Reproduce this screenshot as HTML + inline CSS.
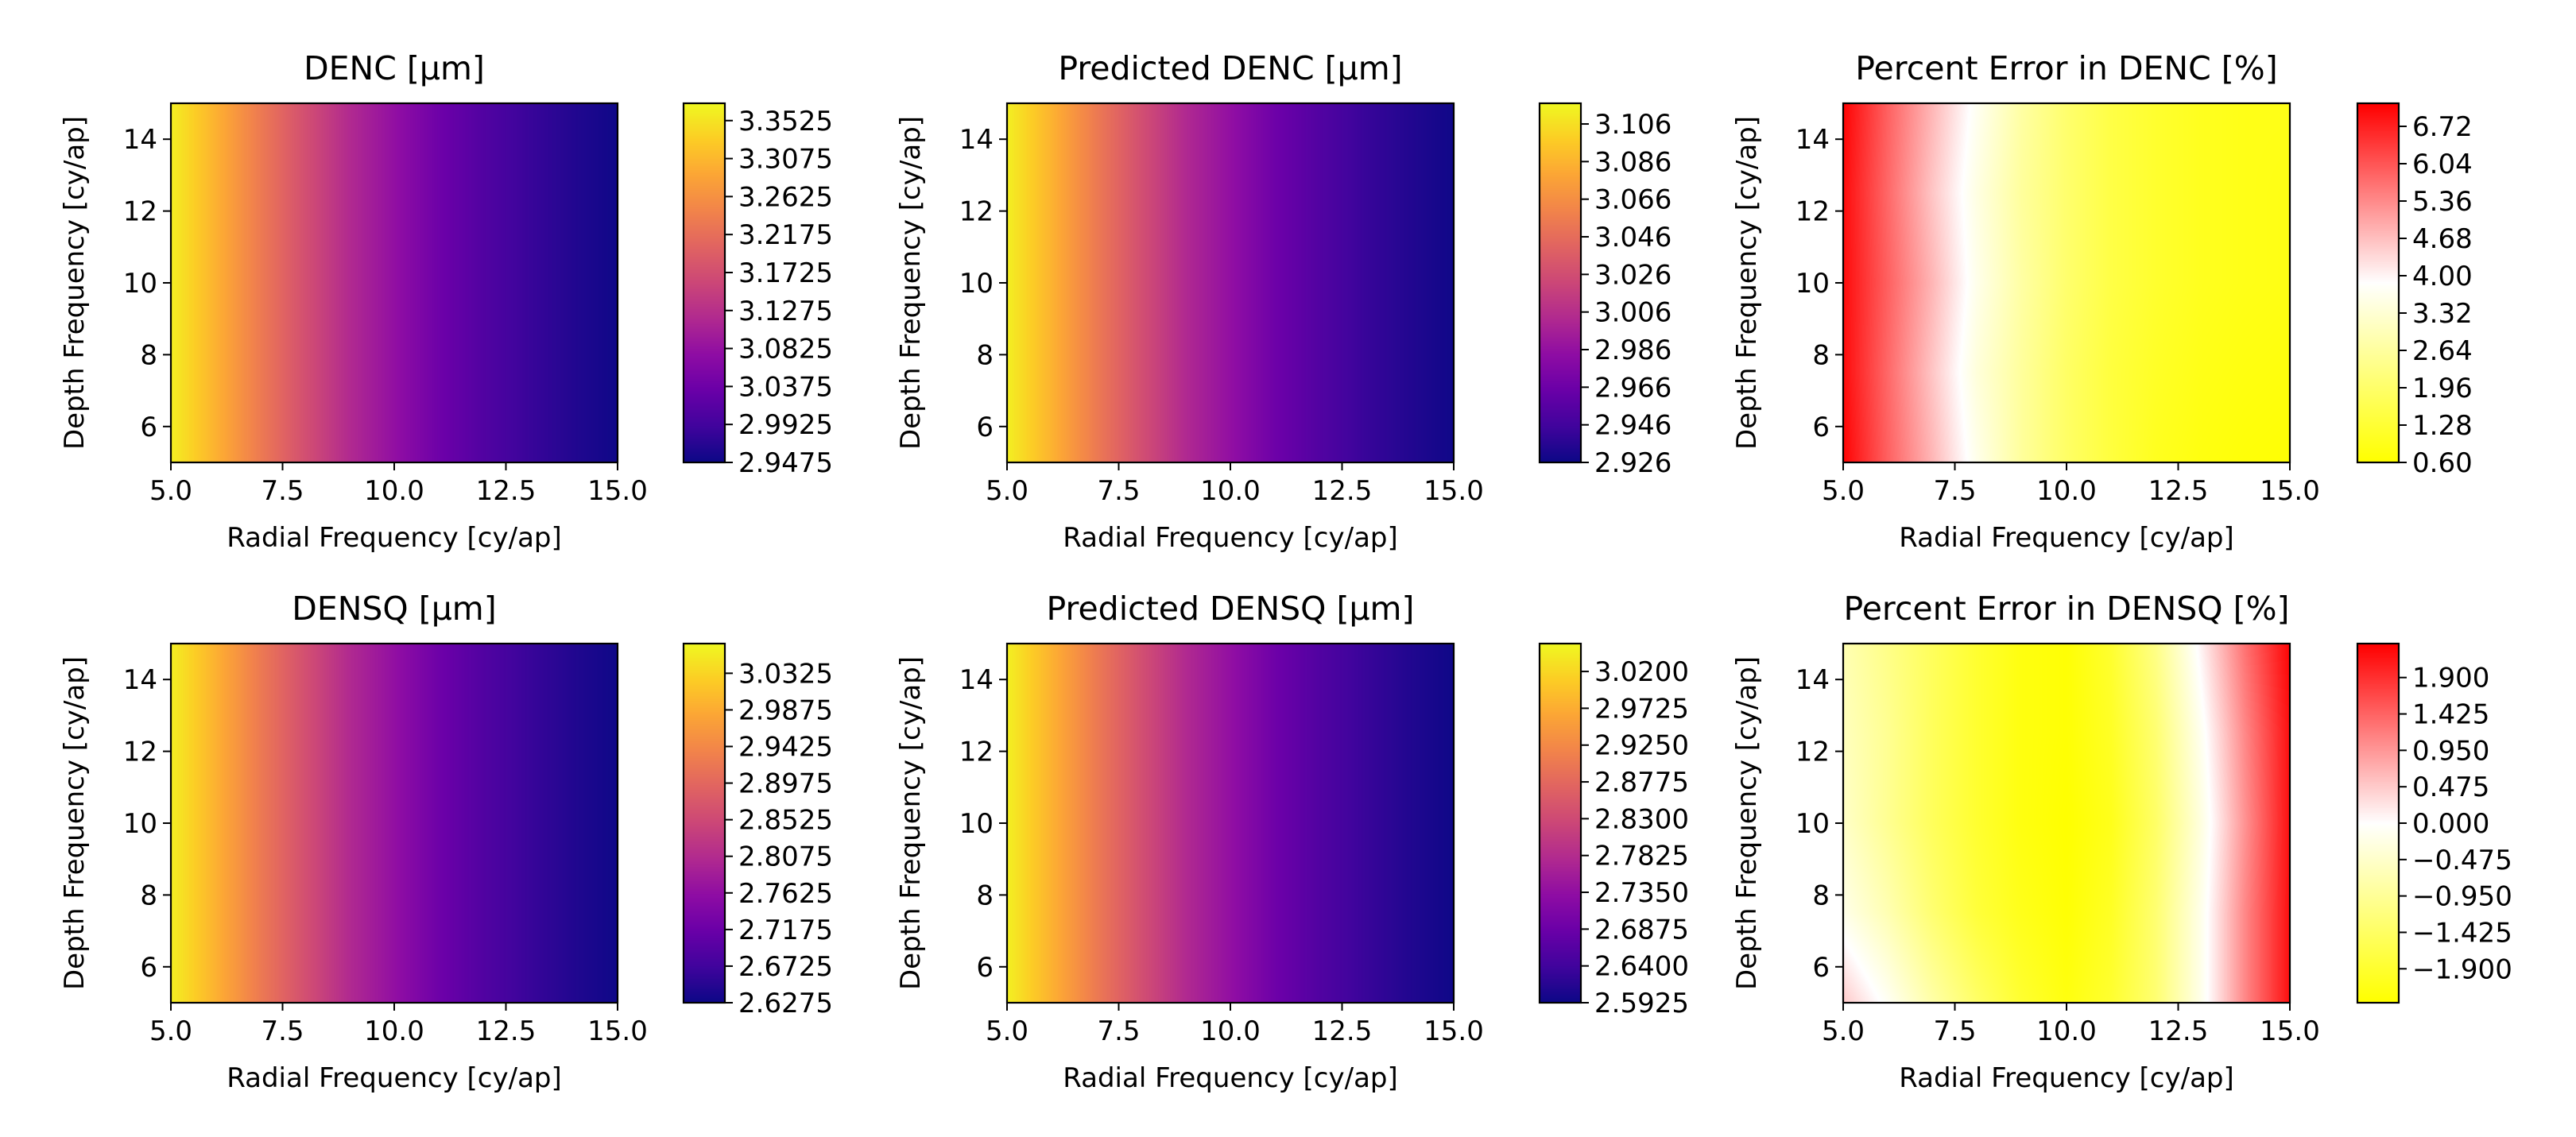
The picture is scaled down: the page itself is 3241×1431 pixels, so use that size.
<!DOCTYPE html>
<html><head><meta charset="utf-8"><style>
body{margin:0;background:#fff;}
#root{position:relative;width:3241px;height:1431px;overflow:hidden;background:#fff;}
canvas{position:absolute;}
svg{position:absolute;left:0;top:0;}
text{font-family:"DejaVu Sans","Liberation Sans",sans-serif;fill:#000;}
</style></head><body>
<div id="root">
<svg id="ov" width="3241" height="1431"></svg>
</div>
<script>
// ---- data ----
const xGrid = [5,6,7,8,9,10,11,12,13,14,15];
const yGrid = [5,7.5,10,12.5,15];
const xTicks = [5.0,7.5,10.0,12.5,15.0];
const xTickLabels = ["5.0","7.5","10.0","12.5","15.0"];
const yTicks = [6,8,10,12,14];
const dencProfile = [3.364,3.301,3.233,3.173,3.118,3.079,3.037,3.007,2.984,2.965,2.949];
const predDencProfile = [3.113,3.085,3.054,3.027,3.002,2.985,2.966,2.953,2.942,2.934,2.927];
const densqProfile = [3.060,2.994,2.923,2.862,2.804,2.764,2.720,2.689,2.665,2.645,2.629];
const predDensqProfile = [3.047,2.977,2.903,2.838,2.778,2.736,2.690,2.657,2.632,2.611,2.594];
const errDenc = [
 [7.1,5.9,4.8,3.6,2.6,1.9,1.4,1.0,0.8,0.7,0.65],
 [7.0,5.8,4.6,3.4,2.6,1.9,1.4,1.1,0.9,0.8,0.75],
 [7.0,5.9,4.8,3.6,2.7,2.0,1.5,1.2,1.0,0.9,0.85],
 [7.0,5.8,4.6,3.5,2.6,2.0,1.5,1.2,1.0,0.9,0.85],
 [7.1,5.9,4.8,3.7,2.7,2.0,1.5,1.2,1.0,0.9,0.9]];
const errDensq = [
 [0.5,-0.1,-0.8,-1.4,-1.9,-2.2,-1.9,-1.3,-0.2,1.1,2.2],
 [-0.2,-0.7,-1.3,-1.8,-2.1,-2.3,-2.0,-1.3,-0.2,1.1,2.2],
 [-0.5,-1.0,-1.5,-1.9,-2.2,-2.34,-2.1,-1.4,-0.3,1.0,2.2],
 [-0.6,-1.0,-1.5,-1.9,-2.2,-2.3,-2.0,-1.3,-0.15,1.1,2.2],
 [-0.7,-1.1,-1.5,-1.9,-2.2,-2.3,-1.9,-1.1,0.1,1.3,2.3]];
const cb1Ticks = ["3.3525","3.3075","3.2625","3.2175","3.1725","3.1275","3.0825","3.0375","2.9925","2.9475"];
const cb2Ticks = ["3.106","3.086","3.066","3.046","3.026","3.006","2.986","2.966","2.946","2.926"];
const cb3Ticks = ["6.72","6.04","5.36","4.68","4.00","3.32","2.64","1.96","1.28","0.60"];
const cb4Ticks = ["3.0325","2.9875","2.9425","2.8975","2.8525","2.8075","2.7625","2.7175","2.6725","2.6275"];
const cb5Ticks = ["3.0200","2.9725","2.9250","2.8775","2.8300","2.7825","2.7350","2.6875","2.6400","2.5925"];
const cb6Ticks = ["1.900","1.425","0.950","0.475","0.000","\u22120.475","\u22120.950","\u22121.425","\u22121.900"];

const plasma=[[13,8,135],[65,4,157],[106,0,168],[143,13,164],[177,42,144],[204,71,120],[225,100,98],[242,132,75],[252,166,54],[252,206,37],[240,249,33]];
const ywr=[[255,255,0],[255,255,255],[255,0,0]];
function cmap(stops,t){t=Math.max(0,Math.min(1,t));const n=stops.length-1;const f=t*n;const i=Math.min(n-1,Math.floor(f));const u=f-i;const a=stops[i],b=stops[i+1];return [a[0]+(b[0]-a[0])*u,a[1]+(b[1]-a[1])*u,a[2]+(b[2]-a[2])*u];}
function interp1(arr,x){ // arr over xGrid
  let i=0;while(i<xGrid.length-2&&x>xGrid[i+1])i++;const u=(x-xGrid[i])/(xGrid[i+1]-xGrid[i]);return arr[i]+(arr[i+1]-arr[i])*u;}
function interp2(g,x,y){let j=0;while(j<yGrid.length-2&&y>yGrid[j+1])j++;const v=(y-yGrid[j])/(yGrid[j+1]-yGrid[j]);const a=interp1(g[j],x),b=interp1(g[j+1],x);return a+(b-a)*v;}

const panels=[
 {name:"denc",title:"DENC [\u00b5m]",L:215,T:130,cbL:860,f:(x,y)=>interp1(dencProfile,x),vmin:2.9475,vmax:3.373,cm:plasma,ticks:cb1Ticks,step:0.045},
 {name:"predicted-denc",title:"Predicted DENC [\u00b5m]",L:1267,T:130,cbL:1937,f:(x,y)=>interp1(predDencProfile,x),vmin:2.926,vmax:3.117,cm:plasma,ticks:cb2Ticks,step:0.02},
 {name:"percent-error-denc",title:"Percent Error in DENC [%]",L:2319,T:130,cbL:2966,f:(x,y)=>interp2(errDenc,x,y),vmin:0.6,vmax:7.14,cm:ywr,ticks:cb3Ticks,step:0.68},
 {name:"densq",title:"DENSQ [\u00b5m]",L:215,T:810,cbL:860,f:(x,y)=>interp1(densqProfile,x),vmin:2.6275,vmax:3.069,cm:plasma,ticks:cb4Ticks,step:0.045},
 {name:"predicted-densq",title:"Predicted DENSQ [\u00b5m]",L:1267,T:810,cbL:1937,f:(x,y)=>interp1(predDensqProfile,x),vmin:2.5925,vmax:3.056,cm:plasma,ticks:cb5Ticks,step:0.0475},
 {name:"percent-error-densq",title:"Percent Error in DENSQ [%]",L:2319,T:810,cbL:2966,f:(x,y)=>interp2(errDensq,x,y),vmin:-2.343,vmax:2.343,cm:ywr,ticks:cb6Ticks,step:0.475}
];
const W=562,H=452,CBW=52;
const root=document.getElementById('root');
const svg=document.getElementById('ov');
const NS="http://www.w3.org/2000/svg";
function mk(tag,attrs,txt){const e=document.createElementNS(NS,tag);for(const k in attrs)e.setAttribute(k,attrs[k]);if(txt!==undefined)e.textContent=txt;svg.appendChild(e);return e;}
panels.forEach(p=>{
  const sx=x=>p.L+(x-5)/10*W, sy=y=>p.T+H-(y-5)/10*H;
  // heatmap
  const c=document.createElement('canvas');c.width=W;c.height=H;c.style.left=p.L+'px';c.style.top=p.T+'px';
  
  
  root.insertBefore(c,svg);
  const ctx=c.getContext('2d');const im=ctx.createImageData(W,H);
  for(let j=0;j<H;j++){const y=15-(j+0.5)/H*10;for(let i=0;i<W;i++){const x=5+(i+0.5)/W*10;const v=p.f(x,y);const col=cmap(p.cm,(v-p.vmin)/(p.vmax-p.vmin));const o=(j*W+i)*4;im.data[o]=col[0];im.data[o+1]=col[1];im.data[o+2]=col[2];im.data[o+3]=255;}}
  ctx.putImageData(im,0,0);
  // colorbar
  const cb=document.createElement('canvas');cb.width=CBW;cb.height=H;cb.style.left=p.cbL+'px';cb.style.top=p.T+'px';
  
  
  root.insertBefore(cb,svg);
  const cx=cb.getContext('2d');
  for(let j=0;j<H;j++){const col=cmap(p.cm,1-(j+0.5)/H);cx.fillStyle=`rgb(${col[0]|0},${col[1]|0},${col[2]|0})`;cx.fillRect(0,j,CBW,1);}
  // frames
  const f1=mk('rect',{x:p.L,y:p.T,width:W,height:H,fill:'none',stroke:'#000','stroke-width':2.2});
  
  
  const f2=mk('rect',{x:p.cbL,y:p.T,width:CBW,height:H,fill:'none',stroke:'#000','stroke-width':2.2});
  
  
  // title
  const t=mk('text',{x:p.L+W/2,y:p.T-30,'text-anchor':'middle','font-size':41},p.title);
  
  
  // x ticks
  xTicks.forEach((v,k)=>{const X=sx(v);mk('line',{x1:X,x2:X,y1:p.T+H,y2:p.T+H+10,stroke:'#000','stroke-width':2});
    const e=mk('text',{x:X,y:p.T+H+47,'text-anchor':'middle','font-size':34},xTickLabels[k]);
    
    });
  yTicks.forEach(v=>{const Y=sy(v);mk('line',{x1:p.L-10,x2:p.L,y1:Y,y2:Y,stroke:'#000','stroke-width':2});
    const e=mk('text',{x:p.L-17,y:Y+12,'text-anchor':'end','font-size':34},String(v));
    
    });
  const xl=mk('text',{x:p.L+W/2,y:p.T+H+106,'text-anchor':'middle','font-size':34},'Radial Frequency [cy/ap]');
  
  
  const yx=p.L-110, yy=p.T+H/2;
  const yl=mk('text',{x:yx,y:yy,'text-anchor':'middle','font-size':34,transform:`rotate(-90 ${yx} ${yy})`},'Depth Frequency [cy/ap]');
  
  
  // colorbar ticks
  const n=p.ticks.length;
  p.ticks.forEach((lab,k)=>{const val=parseFloat(lab.replace('\u2212','-'));const Y=p.T+H-(val-p.vmin)/(p.vmax-p.vmin)*H;
    mk('line',{x1:p.cbL+CBW,x2:p.cbL+CBW+10,y1:Y,y2:Y,stroke:'#000','stroke-width':2});
    const e=mk('text',{x:p.cbL+CBW+17,y:Y+12,'font-size':34},lab);
    
    });
});
</script>
</body></html>
